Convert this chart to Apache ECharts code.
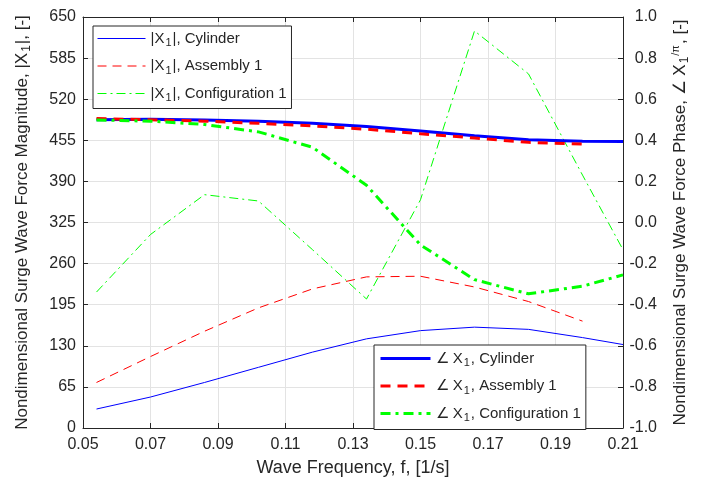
<!DOCTYPE html>
<html>
<head>
<meta charset="utf-8">
<script src="https://cdn.jsdelivr.net/npm/echarts@6/dist/echarts.min.js"></script>
<style>html,body{margin:0;padding:0;background:#fff}#c{width:703px;height:482px}</style>
</head>
<body>
<div id="c"></div>
<script>
// Data
var freqs = [0.054, 0.070, 0.086, 0.102, 0.118, 0.134, 0.150, 0.166, 0.182, 0.198, 0.21];
var magCylinder = [30, 49, 72, 96, 120, 141, 154, 159.5, 156, 143, 132];
var magAssembly = [72, 113, 153, 190, 220, 239, 240, 223, 200, 169];
var magConfig   = [215, 306, 369, 359, 282, 204, 361, 628, 560, 400, 282];
var phCylinder  = [0.500, 0.503, 0.499, 0.493, 0.483, 0.467, 0.445, 0.422, 0.403, 0.395, 0.394];
var phAssembly  = [0.506, 0.500, 0.493, 0.483, 0.470, 0.454, 0.432, 0.411, 0.390, 0.382];
var phConfig    = [0.499, 0.493, 0.477, 0.441, 0.366, 0.181, -0.109, -0.278, -0.347, -0.310, -0.255];
var xTicks = [0.05, 0.07, 0.09, 0.11, 0.13, 0.15, 0.17, 0.19, 0.21];
var leftTicks = [0, 65, 130, 195, 260, 325, 390, 455, 520, 585, 650];
var rightTicks = [-1.0, -0.8, -0.6, -0.4, -0.2, 0.0, 0.2, 0.4, 0.6, 0.8, 1.0];
var namesMag = ['|X1|, Cylinder', '|X1|, Assembly 1', '|X1|, Configuration 1'];
var namesPh = ['\u2220 X1, Cylinder', '\u2220 X1, Assembly 1', '\u2220 X1, Configuration 1'];

function pairs(xs, ys) { return ys.map(function (v, i) { return [xs[i], v]; }); }

var FONT = "'Liberation Sans', Arial, Helvetica, sans-serif";
var AX = '#262626';
var GRIDC = '#e3e3e3';
function mkRich(fs) {
  return {
    s: { fontSize: Math.round(fs * 0.7), fontFamily: FONT, color: AX, padding: [Math.round(fs * 0.6), 1, 0, 1] },
    f: { fontSize: Math.round(fs * 0.65), fontFamily: FONT, color: AX, padding: [0, 1, Math.round(fs * 0.5), 0] }
  };
}
function fmtName(n) { return n.replace('X1', 'X{s|1}'); }

var chart = echarts.init(document.getElementById('c'), null, { renderer: 'canvas' });
var legendCommon = {
  orient: 'vertical', itemHeight: 14, itemGap: 10,
  backgroundColor: '#fff', borderColor: AX, borderWidth: 1, borderRadius: 0,
  itemStyle: { opacity: 0 },
  textStyle: { fontSize: 15, color: AX, fontFamily: FONT, rich: mkRich(15) },
  formatter: fmtName
};
var option = {
  animation: false,
  backgroundColor: '#fff',
  textStyle: { fontFamily: FONT },
  grid: { left: 83, right: 80, top: 17, bottom: 50, containLabel: false },
  xAxis: [{
    type: 'value', min: xTicks[0], max: xTicks[xTicks.length - 1], interval: 0.02,
    position: 'bottom',
    name: 'Wave Frequency, f, [1/s]', nameLocation: 'middle', nameGap: 31,
    nameTextStyle: { fontSize: 18, color: AX, fontFamily: FONT },
    axisLine: { show: true, onZero: false, lineStyle: { color: AX, width: 1 } },
    axisTick: { show: true, inside: true, length: 5, lineStyle: { color: AX } },
    axisLabel: { fontSize: 16, color: AX, margin: 9, fontFamily: FONT, formatter: function (v) { return v.toFixed(2); } },
    splitLine: { show: true, lineStyle: { color: GRIDC, width: 1 } }
  }, {
    type: 'value', min: xTicks[0], max: xTicks[xTicks.length - 1], interval: 0.02,
    position: 'top',
    axisLine: { show: true, onZero: false, lineStyle: { color: AX, width: 1 } },
    axisTick: { show: true, inside: true, length: 5, lineStyle: { color: AX } },
    axisLabel: { show: false },
    splitLine: { show: false }
  }],
  yAxis: [{
    type: 'value', min: leftTicks[0], max: leftTicks[leftTicks.length - 1], interval: 65,
    position: 'left',
    name: 'Nondimensional Surge Wave Force Magnitude, |X{s|1}|, [-]',
    nameLocation: 'middle', nameGap: 50, nameRotate: 90,
    nameTextStyle: { fontSize: 17, color: AX, fontFamily: FONT, rich: mkRich(17) },
    axisLine: { show: true, onZero: false, lineStyle: { color: AX, width: 1 } },
    axisTick: { show: true, inside: true, length: 5, lineStyle: { color: AX } },
    axisLabel: { fontSize: 16, color: AX, margin: 7, fontFamily: FONT },
    splitLine: { show: true, lineStyle: { color: GRIDC, width: 1 } }
  }, {
    type: 'value', min: rightTicks[0], max: rightTicks[rightTicks.length - 1], interval: 0.2,
    position: 'right',
    name: 'Nondimensional Surge Wave Force Phase, \u2220 X{s|1}{f|/\u03c0}, [-]',
    nameLocation: 'middle', nameGap: 46, nameRotate: 90,
    nameTextStyle: { fontSize: 17, color: AX, fontFamily: FONT, rich: mkRich(17) },
    axisLine: { show: true, onZero: false, lineStyle: { color: AX, width: 1 } },
    axisTick: { show: true, inside: true, length: 5, lineStyle: { color: AX } },
    axisLabel: { fontSize: 16, color: AX, margin: 34, align: 'right', fontFamily: FONT, formatter: function (v) { return v.toFixed(1); } },
    splitLine: { show: false }
  }],
  legend: [
    Object.assign({}, legendCommon, { data: namesMag, left: 93, top: 26, itemWidth: 48, padding: [5, 5, 5, 4], lineStyle: { width: 1 } }),
    Object.assign({}, legendCommon, { data: namesPh, left: 374, top: 345, itemWidth: 50, padding: [6, 5, 6, 5], lineStyle: { width: 3 } })
  ],
  series: [
    { name: namesMag[0], type: 'line', xAxisIndex: 0, yAxisIndex: 0, data: pairs(freqs, magCylinder),
      symbol: 'none', lineStyle: { color: '#0000ff', width: 1 }, itemStyle: { color: '#0000ff' } },
    { name: namesMag[1], type: 'line', xAxisIndex: 0, yAxisIndex: 0, data: pairs(freqs, magAssembly),
      symbol: 'none', lineStyle: { color: '#ff0000', width: 1, type: [9, 6] }, itemStyle: { color: '#ff0000' } },
    { name: namesMag[2], type: 'line', xAxisIndex: 0, yAxisIndex: 0, data: pairs(freqs, magConfig),
      symbol: 'none', lineStyle: { color: '#00ff00', width: 1, type: [9, 4, 2, 4] }, itemStyle: { color: '#00ff00' } },
    { name: namesPh[0], type: 'line', xAxisIndex: 0, yAxisIndex: 1, data: pairs(freqs, phCylinder),
      symbol: 'none', lineStyle: { color: '#0000ff', width: 3 }, itemStyle: { color: '#0000ff' } },
    { name: namesPh[1], type: 'line', xAxisIndex: 0, yAxisIndex: 1, data: pairs(freqs, phAssembly),
      symbol: 'none', lineStyle: { color: '#ff0000', width: 3, type: [10, 7] }, itemStyle: { color: '#ff0000' } },
    { name: namesPh[2], type: 'line', xAxisIndex: 0, yAxisIndex: 1, data: pairs(freqs, phConfig),
      symbol: 'none', lineStyle: { color: '#00ff00', width: 3, type: [10, 5, 3, 5] }, itemStyle: { color: '#00ff00' } }
  ]
};
chart.setOption(option);
</script>
</body>
</html>
